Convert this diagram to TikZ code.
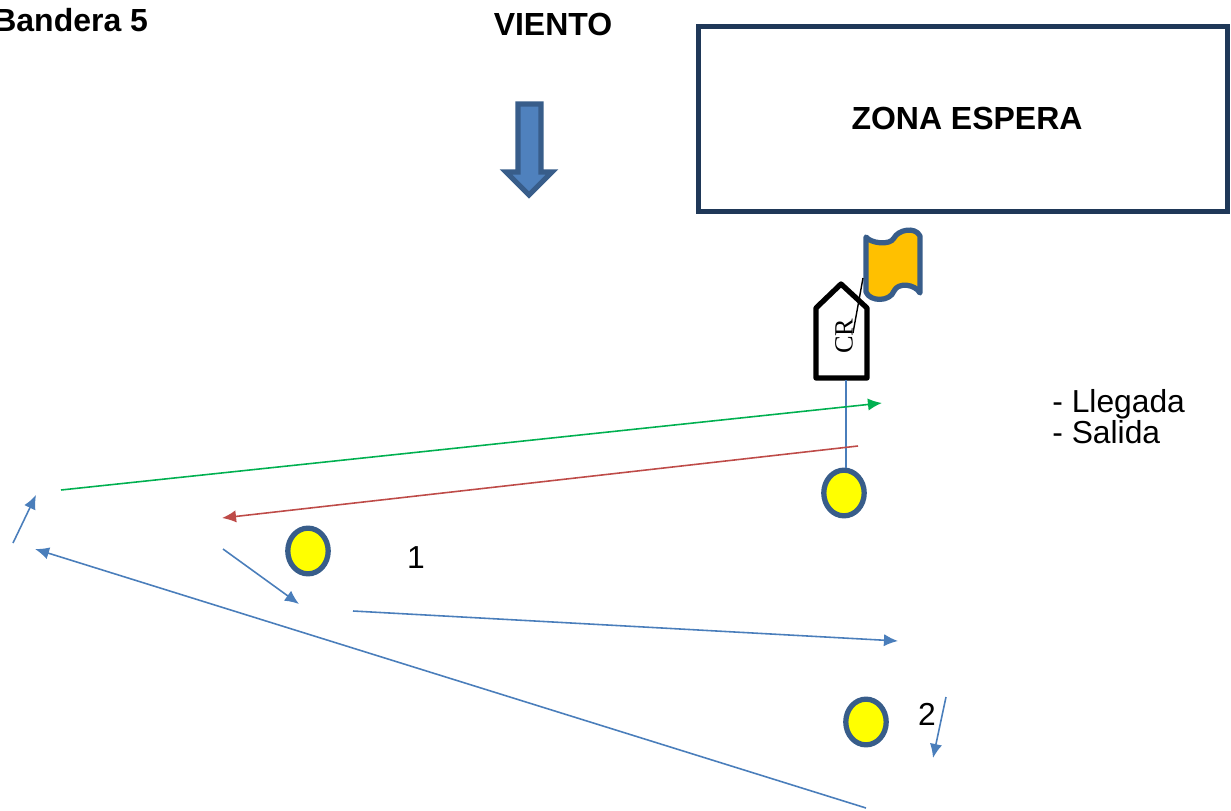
\documentclass[tikz,border=0pt]{standalone}
\usepackage{fontspec}
\setmainfont{Liberation Sans}
\newfontfamily\crfont{Liberation Serif}
\usetikzlibrary{arrows.meta, shapes.geometric}
\definecolor{boxblue}{RGB}{31,56,88}
\definecolor{edgeblue}{RGB}{56,93,138}
\definecolor{fillblue}{RGB}{79,129,189}
\definecolor{lineblue}{RGB}{74,126,187}
\definecolor{linered}{RGB}{190,75,72}
\definecolor{linegreen}{RGB}{0,176,80}
\definecolor{flagorange}{RGB}{255,192,0}
\definecolor{buoyyellow}{RGB}{255,255,0}
\tikzset{
    label18/.style={font=\fontsize{18.1}{18}\selectfont, inner sep=0pt},
    title18/.style={inner sep=0pt, font=\fontsize{18.2}{18}\selectfont\bfseries},
    buoy/.style={ellipse, draw=edgeblue, fill=buoyyellow, line width=3pt, minimum width=23pt, minimum height=26pt, inner sep=0pt},
    course/.style={line width=0.9pt, -{Latex[length=8pt, width=7pt]}},
}
\begin{document}
\begin{tikzpicture}[x=0.02cm, y=-0.02cm]
            \useasboundingbox (0, 0) rectangle (1231, 811);

            \path (846, 380) coordinate (C0);
            \path (13, 543) coordinate (A1);
            \path (36, 495) coordinate (A2);
            \path (61, 490) coordinate (G1);
            \path (882, 403) coordinate (G2);
            \path (858, 446) coordinate (L1);
            \path (222, 518) coordinate (L2);
            \path (223, 549) coordinate (B1);
            \path (299, 604) coordinate (B2);
            \path (353, 611) coordinate (D1);
            \path (898, 641) coordinate (D2);
            \path (946, 697) coordinate (E1);
            \path (933, 758) coordinate (E2);
            \path (866, 808) coordinate (F1);
            \path (35, 549) coordinate (F2);
            \path (863, 278) coordinate (P1);
            \path (853, 333) coordinate (P2);

            \node[title18, anchor=base west] (bandera) at (-7, 32) {Bandera 5};
            \node[title18, anchor=base] (viento) at (553, 36) {VIENTO};
            \node[draw=boxblue, line width=2.6pt, minimum width=301.2pt, minimum height=105.6pt, inner sep=0pt] (zonabox) at (963, 119) {};
            \node[title18] (zona) at (967, 118) {ZONA ESPERA};

            % wind arrow
            \filldraw[draw=edgeblue, fill=fillblue, line width=3pt, line join=miter] (518, 104) -- (541, 104) -- (541, 172) -- (552, 172) -- (529, 195) -- (506, 172) -- (518, 172) -- cycle;

            % flag
            \filldraw[draw=edgeblue, fill=flagorange, line width=3pt, line join=round, line cap=round] (866, 237)
                .. controls (870, 243) and (890, 246) .. (894, 238)
                .. controls (898, 230) and (915, 226) .. (920, 236)
                -- (920, 293)
                .. controls (915, 284) and (898, 282) .. (894, 291)
                .. controls (890, 302) and (870, 302) .. (866, 292) -- cycle;

            % committee boat
            \filldraw[draw=black, fill=white, line width=3pt, line join=round] (816, 378) -- (816, 308) -- (841, 284) -- (867, 308) -- (867, 378) -- cycle;
            \node[rotate=90, inner sep=0pt, font=\crfont\fontsize{15}{15}\selectfont] (CR) at (844, 336) {CR};
            \draw[black, line width=0.8pt] (P1) -- (P2);

            \node[buoy] (B0) at (844, 493) {};
            \node[buoy] (B1n) at (308, 551) {};
            \node[buoy] (B2n) at (866, 722) {};

            \draw[lineblue, line width=0.9pt] (C0) -- (B0.north -| C0);

            \draw[course, linegreen] (G1) -- (G2);
            \draw[course, linered] (L1) -- (L2);
            \draw[course, lineblue] (A1) -- (A2);
            \draw[course, lineblue] (B1) -- (B2);
            \draw[course, lineblue] (D1) -- (D2);
            \draw[course, lineblue] (E1) -- (E2);
            \draw[course, lineblue] (F1) -- (F2);

            \node[label18, anchor=base] (num1) at (416, 568) {1};
            \node[label18, anchor=base] (num2) at (927, 725) {2};
            \node[label18, anchor=base west] (llegada) at (1052, 412) {- Llegada};
            \node[label18, anchor=base west] (salida) at (1052, 443) {- Salida};
        \end{tikzpicture}
\end{document}
